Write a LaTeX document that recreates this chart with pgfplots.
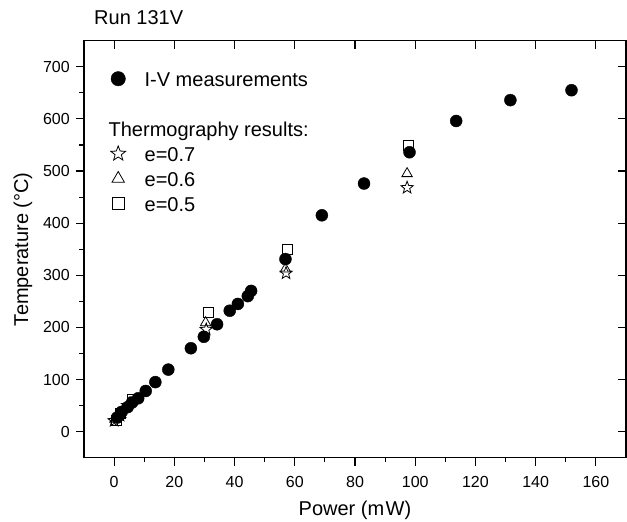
\documentclass[border=0pt]{standalone}
\usepackage{fontspec}
\setmainfont{Liberation Sans}
\usepackage{pgfplots}
\pgfplotsset{compat=1.18}

\pgfdeclareplotmark{ostar}{%
  \pgfpathmoveto{\pgfpointpolar{90}{\pgfplotmarksize}}%
  \pgfpathlineto{\pgfpointpolar{126}{0.42\pgfplotmarksize}}%
  \pgfpathlineto{\pgfpointpolar{162}{\pgfplotmarksize}}%
  \pgfpathlineto{\pgfpointpolar{198}{0.42\pgfplotmarksize}}%
  \pgfpathlineto{\pgfpointpolar{234}{\pgfplotmarksize}}%
  \pgfpathlineto{\pgfpointpolar{270}{0.42\pgfplotmarksize}}%
  \pgfpathlineto{\pgfpointpolar{306}{\pgfplotmarksize}}%
  \pgfpathlineto{\pgfpointpolar{342}{0.42\pgfplotmarksize}}%
  \pgfpathlineto{\pgfpointpolar{18}{\pgfplotmarksize}}%
  \pgfpathlineto{\pgfpointpolar{54}{0.42\pgfplotmarksize}}%
  \pgfpathclose
  \pgfusepathqstroke
}

\pgfplotsset{
  common/.style={
    scale only axis, width=542bp, height=417bp,
    xmin=-10, xmax=170, ymin=-50, ymax=750,
    xtick={0,20,...,160}, ytick={0,100,...,700},
    axis line style={line width=1.2bp},
    every tick/.style={line width=1.1bp, black},
    major tick length=8bp, minor tick length=4.5bp,
  }
}

\begin{document}
\begin{tikzpicture}
\useasboundingbox (-84bp,-64.3bp) rectangle (543bp,457.7bp);
\begin{axis}[common,
  minor x tick num=1, minor y tick num=1,
  tick pos=left, tick align=outside,
  /pgf/number format/assume math mode=true,
  tick label style={font=\fontsize{16bp}{19bp}\selectfont},
  xticklabel style={anchor=base, yshift=-21.6bp},
  yticklabel style={anchor=east, inner sep=0pt, xshift=-6bp},
  label style={font=\fontsize{20bp}{24bp}\selectfont},
  xlabel={Power (m\hspace{1.5bp}W)},
  ylabel={Temperature (°C)},
  xlabel style={at={(rel axis cs:0.5,-0.1390)}, anchor=base},
  ylabel style={at={(rel axis cs:-0.1125,0.5)}, anchor=center},
  title={Run 131V},
  title style={font=\fontsize{20bp}{24bp}\selectfont, at={(rel axis cs:0.0185,1.0257)}, anchor=base west, inner sep=0pt},
  legend image code/.code={\draw[#1, /tikz/every mark/.append style={scale=1.2}] plot coordinates {(0bp,3bp)};},
  legend cell align=left,
  legend style={draw=none, fill=none, at={(rel axis cs:0,1)}, anchor=north west,
    xshift=26.8bp, yshift=-29bp, inner sep=0pt, outer sep=0pt, row sep=1bp, column sep=17bp,
    font=\fontsize{20bp}{24bp}\selectfont,
    nodes={inner sep=2bp, text height=15bp, text depth=5bp}},
]
% squares at the higher powers, drawn beneath the circles
\addplot[forget plot, only marks, mark=square, mark size=5bp, mark options={fill=white, line width=0.8bp}] coordinates {
  (31.4,229) (57.7,349) (97.7,549)
};
\addplot[only marks, mark=*, mark size=6bp, black] coordinates {
  (1,27) (2.5,38) (4.5,47) (6,56) (8,64) (10.5,78) (13.7,95) (18,119)
  (25.5,160) (29.8,182) (34.2,206) (38.4,232) (41.1,245) (44.4,260) (45.5,270)
  (56.9,331) (69,415) (83,476) (98.1,536) (113.6,596) (131.6,636) (151.9,655)
};
\addlegendentry{I-V measurements}
\addlegendimage{empty legend}
\addlegendentry{}
\addlegendimage{empty legend}
\addlegendentry{\hspace*{-36bp}Thermography results:}
\addplot[only marks, mark=ostar, mark size=6.5bp, line width=0.8bp, black] coordinates {
  (0,21) (2,31) (4.5,50) (30.6,196) (57.1,304) (97.3,468)
};
\addlegendentry{e=0.7}
\addplot[only marks, mark=triangle, mark size=6bp, mark options={fill=white, line width=0.8bp}, black] coordinates {
  (0.3,24) (2.2,33) (5,55) (30.4,209) (56.9,312) (97.3,495)
};
\addlegendentry{e=0.6}
\addplot[only marks, mark=square, mark size=5bp, mark options={fill=white, line width=0.8bp}, black] coordinates {
  (0.8,22) (2.2,35) (6,61)
};
\addlegendentry{e=0.5}
\end{axis}
\begin{axis}[common,
  tick pos=right, tick align=inside,
  xticklabels={}, yticklabels={},
]
\end{axis}
\end{tikzpicture}
\end{document}
